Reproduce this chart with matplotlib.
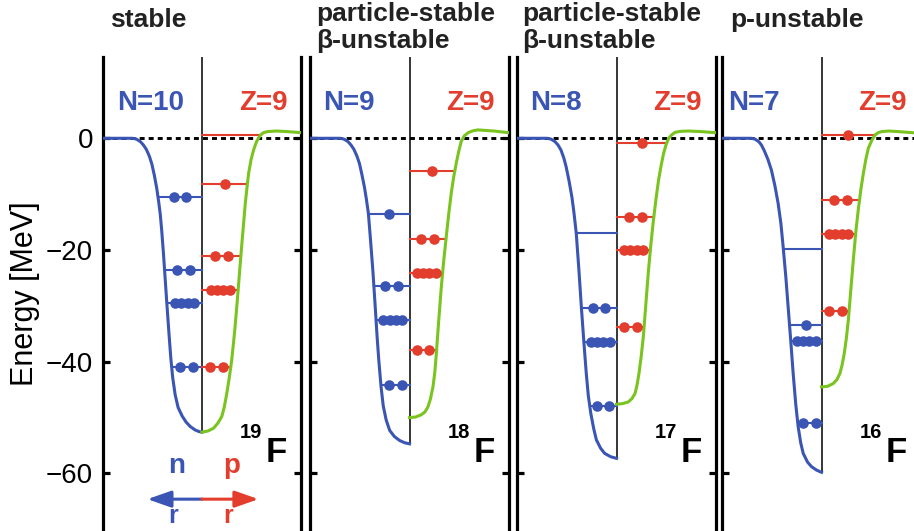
import numpy as np
import matplotlib.pyplot as plt

plt.rcParams['font.family'] = ['Liberation Sans', 'DejaVu Sans']

# potential wells, r<0 neutrons, r>0 protons (energies in MeV)
n_r_19F = [-1.0, -0.70, -0.66, -0.62, -0.59, -0.56, -0.53, -0.505, -0.48, -0.455, -0.435, -0.42, -0.405,
           -0.388, -0.354, -0.33, -0.313, -0.295, -0.27, -0.24, -0.20, -0.16, -0.118, -0.07, -0.03, 0.0]
n_E_19F = [0, 0, -0.15, -0.6, -1.2, -2.0, -3.2, -4.6, -6.6, -9.0, -11.5, -13.6, -16.6,
           -20.6, -29.5, -35.5, -39.5, -42.8, -45.9, -48.2, -49.7, -50.8, -51.6, -52.2, -52.5, -52.6]
p_r_19F = [0.0, 0.06, 0.117, 0.16, 0.2, 0.225, 0.25, 0.275, 0.30, 0.33, 0.354, 0.394, 0.437, 0.455,
           0.47, 0.495, 0.52, 0.55, 0.59, 0.62, 0.66, 0.75, 0.86, 1.0]
p_E_19F = [-52.6, -52.4, -51.9, -51.0, -49.8, -48.1, -45.7, -42.9, -39.7, -34.5, -29.5, -20.6, -11.6, -8.6,
           -6.3, -3.8, -2.1, -0.6, 0.6, 1.0, 1.2, 1.3, 1.2, 1.0]

n_r_18F = [-1.0, -0.70, -0.66, -0.62, -0.59, -0.56, -0.53, -0.505, -0.48, -0.455, -0.435, -0.415, -0.395,
           -0.37, -0.345, -0.327, -0.31, -0.287, -0.265, -0.236, -0.20, -0.152, -0.10, -0.05, 0.0]
n_E_18F = [0, 0, -0.15, -0.6, -1.2, -2.0, -3.2, -4.5, -6.5, -8.7, -10.9, -13.4, -17.8,
           -23.6, -30.4, -35.5, -39.7, -44.5, -47.9, -50.4, -52.3, -53.4, -54.1, -54.5, -54.7]
p_r_18F = [0.0, 0.06, 0.117, 0.155, 0.185, 0.21, 0.236, 0.255, 0.27, 0.295, 0.32, 0.345, 0.37, 0.395,
           0.42, 0.445, 0.47, 0.495, 0.52, 0.55, 0.59, 0.64, 0.69, 0.85, 1.0]
p_E_18F = [-50.0, -49.9, -49.5, -49.0, -48.1, -46.7, -44.5, -41.8, -38.5, -32.4, -26.6, -21.8, -17.6, -13.5,
           -9.85, -6.9, -4.5, -2.4, -0.6, 0.4, 1.0, 1.35, 1.5, 1.3, 1.0]

n_r_17F = [-1.0, -0.70, -0.66, -0.62, -0.59, -0.56, -0.53, -0.508, -0.48, -0.45, -0.43, -0.406, -0.38,
           -0.355, -0.33, -0.305, -0.285, -0.26, -0.23, -0.203, -0.16, -0.12, -0.06, 0.0]
n_E_17F = [0, 0, -0.15, -0.6, -1.2, -2.1, -3.6, -5.1, -7.5, -10.5, -13.2, -17.0, -23.4,
           -30.1, -36.3, -42.1, -46.0, -49.2, -52.0, -54.0, -55.5, -56.4, -57.0, -57.3]
p_r_17F = [0.0, 0.06, 0.118, 0.155, 0.186, 0.206, 0.226, 0.248, 0.27, 0.296, 0.322, 0.347, 0.372, 0.398,
           0.423, 0.45, 0.474, 0.5, 0.525, 0.555, 0.59, 0.65, 0.727, 0.85, 1.0]
p_E_17F = [-47.6, -47.5, -47.2, -46.6, -45.7, -44.2, -42.1, -39.1, -35.5, -29.5, -23.6, -18.8, -14.6, -10.8,
           -7.5, -4.8, -2.7, -1.1, 0.0, 0.6, 1.07, 1.25, 1.3, 1.2, 1.0]

n_r_16F = [-1.0, -0.71, -0.67, -0.63, -0.606, -0.575, -0.54, -0.505, -0.47, -0.438, -0.41, -0.387, -0.36,
           -0.337, -0.31, -0.286, -0.26, -0.236, -0.21, -0.185, -0.14, -0.10, -0.05, 0.0]
n_E_16F = [0, 0, -0.15, -0.65, -1.2, -2.3, -3.8, -5.7, -8.5, -11.6, -15.2, -19.4, -24.8,
           -30.1, -36.3, -42.1, -47.6, -51.6, -54.5, -56.4, -58.0, -58.8, -59.4, -59.8]
p_r_16F = [0.0, 0.06, 0.118, 0.155, 0.185, 0.208, 0.229, 0.25, 0.27, 0.295, 0.32, 0.345, 0.37, 0.395,
           0.421, 0.446, 0.471, 0.505, 0.539, 0.57, 0.606, 0.68, 0.77, 0.88, 1.0]
p_E_16F = [-44.5, -44.4, -43.9, -43.2, -42.1, -40.5, -38.5, -35.8, -32.5, -27.1, -21.8, -16.8, -12.8, -9.3,
           -6.3, -3.8, -1.8, -0.4, 0.6, 1.0, 1.2, 1.3, 1.2, 1.05, 0.9]

# single-particle levels and their occupation
n_lev_19F = [-10.5, -23.6, -29.4, -41.0]
n_occ_19F = [2, 2, 4, 2]
p_lev_19F = [0.6, -8.1, -21.1, -27.2, -40.9]
p_occ_19F = [0, 1, 2, 4, 2]

n_lev_18F = [-13.6, -26.4, -32.5, -44.1]
n_occ_18F = [1, 2, 4, 2]
p_lev_18F = [-5.8, -18.1, -24.1, -37.9]
p_occ_18F = [1, 2, 4, 2]

n_lev_17F = [-17.0, -30.4, -36.4, -47.9]
n_occ_17F = [0, 2, 4, 2]
p_lev_17F = [-0.8, -14.1, -20.0, -33.8]
p_occ_17F = [1, 2, 4, 2]

n_lev_16F = [-19.9, -33.5, -36.3, -51.0]
n_occ_16F = [0, 1, 4, 2]
p_lev_16F = [0.5, -11.0, -17.1, -30.9]
p_occ_16F = [1, 2, 4, 2]

titles = [['stable'], ['particle-stable', 'β-unstable'], ['particle-stable', 'β-unstable'], ['p-unstable']]
n_labels = ['N=10', 'N=9', 'N=8', 'N=7']
z_labels = ['Z=9', 'Z=9', 'Z=9', 'Z=9']
mass = ['19', '18', '17', '16']

panels = [
    (n_r_19F, n_E_19F, p_r_19F, p_E_19F, n_lev_19F, n_occ_19F, p_lev_19F, p_occ_19F),
    (n_r_18F, n_E_18F, p_r_18F, p_E_18F, n_lev_18F, n_occ_18F, p_lev_18F, p_occ_18F),
    (n_r_17F, n_E_17F, p_r_17F, p_E_17F, n_lev_17F, n_occ_17F, p_lev_17F, p_occ_17F),
    (n_r_16F, n_E_16F, p_r_16F, p_E_16F, n_lev_16F, n_occ_16F, p_lev_16F, p_occ_16F),
]

blue = '#3a55b3'
red = '#e23d2d'
green = '#7ac41f'

W, H = 914, 531
fig = plt.figure(figsize=(W / 100, H / 100), dpi=100)
left_px = [102.7, 310.3, 517.3, 722.3]
width_px = 198.5
top_px, bot_px = 57, 531
ylim = (-70.3, 14.55)
n_offset = [14, 13, 13, 6]
title_x = [110, 316.5, 522, 730]
spacing = {0: 0, 1: 0, 2: 0.128, 4: 0.064}


def draw_levels(ax, levels, occ, r_from, r_to, color):
    for E, k, r0, r1 in zip(levels, occ, r_from, r_to):
        ax.plot([r0, r1], [E, E], color=color, lw=1.5, zorder=3)
        if k:
            mid = (r0 + r1) / 2
            xs = mid + (np.arange(k) - (k - 1) / 2) * spacing[k]
            ax.plot(xs, [E] * k, 'o', color=color, ms=7.6, mec='none', zorder=5)


for i, (nr, nE, pr, pE, nlev, nocc, plev, pocc) in enumerate(panels):
    ax = fig.add_axes([left_px[i] / W, 1 - bot_px / H, width_px / W, (bot_px - top_px) / H])
    ax.set_xlim(-1, 1)
    ax.set_ylim(*ylim)
    ax.spines['top'].set_visible(False)
    ax.spines['bottom'].set_visible(False)
    ax.spines['left'].set_linewidth(2.3)
    ax.spines['right'].set_linewidth(2.3)
    ax.set_xticks([])
    ax.set_yticks([-60, -40, -20, 0])
    ax.tick_params(axis='y', direction='in', length=5, width=2.3, left=True, right=True,
                   labelleft=(i == 0), labelsize=20, pad=7)

    ax.axhline(0, color='k', lw=2.1, ls=(0, (1.7, 1.4)), zorder=1)
    ax.vlines(0, min(nE), ylim[1], color='k', lw=1.1, zorder=2)

    nE_a, nr_a = np.array(nE)[::-1], np.array(nr)[::-1]
    n_edge = np.interp(nlev, nE_a, nr_a)
    draw_levels(ax, nlev, nocc, n_edge, [0] * len(nlev), blue)
    k = int(np.argmax(pE))
    p_edge = np.interp(plev, pE[:k + 1], pr[:k + 1])
    draw_levels(ax, plev, pocc, [0] * len(plev), p_edge, red)

    ax.plot(nr, nE, color=blue, lw=2.2, zorder=4, solid_joinstyle='round')
    ax.plot(pr, pE, color=green, lw=2.2, zorder=4, solid_joinstyle='round')

    ax.annotate(n_labels[i], xy=(-1, 5.1), xytext=(n_offset[i], 0), textcoords='offset pixels',
                ha='left', va='baseline', fontsize=20, weight='bold', color=blue)
    ax.annotate(z_labels[i], xy=(1, 5.1), xytext=(-14, 0), textcoords='offset pixels',
                ha='right', va='baseline', fontsize=20, weight='bold', color=red)

    ax.text(0.86, -58.0, 'F', ha='right', va='baseline', fontsize=25, weight='bold')
    ax.text(0.61, -53.7, mass[i], ha='right', va='baseline', fontsize=14.5, weight='bold')

    for j, line in enumerate(titles[i]):
        base = 27 if len(titles[i]) == 1 else 21 + 27 * j
        fig.text(title_x[i] / W, 1 - base / H, line, ha='left', va='baseline',
                 fontsize=19, weight='bold', color='#222222')

    if i == 0:
        ax.text(-0.26, -60.0, 'n', ha='center', va='baseline', fontsize=20, weight='bold', color=blue)
        ax.text(0.30, -60.0, 'p', ha='center', va='baseline', fontsize=20, weight='bold', color=red)
        for end, c in [(-0.55, blue), (0.57, red)]:
            ax.annotate('', xy=(end, -64.6), xytext=(0, -64.6),
                        arrowprops=dict(arrowstyle='-|>,head_length=0.8,head_width=0.28',
                                        color=c, lw=2.2, mutation_scale=18, shrinkA=0, shrinkB=0))
        ax.text(-0.295, -68.9, 'r', ha='center', va='baseline', fontsize=18, weight='bold', color=blue)
        ax.text(0.26, -68.9, 'r', ha='center', va='baseline', fontsize=18, weight='bold', color=red)

fig.text(25 / W, 1 - 294 / H, 'Energy [MeV]', rotation=90, ha='center', va='center', fontsize=22)

fig.savefig('out.png', dpi=100)
